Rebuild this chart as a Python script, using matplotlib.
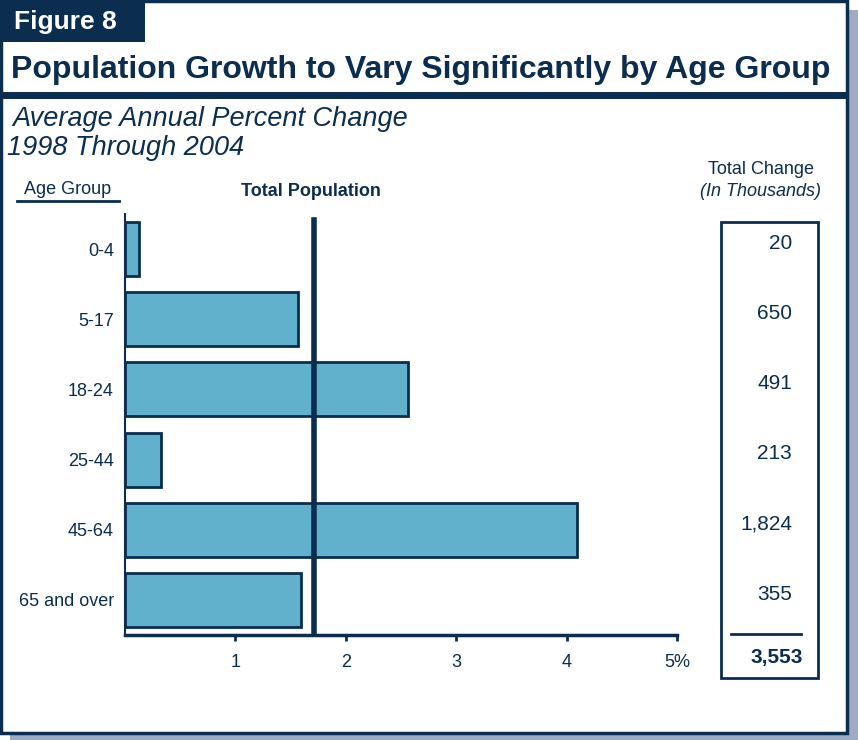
import matplotlib
matplotlib.use("Agg")
import matplotlib.pyplot as plt
import matplotlib.transforms as mtransforms
from matplotlib.patches import Rectangle

# data
groups = ["0-4", "5-17", "18-24", "25-44", "45-64", "65 and over"]
pct_change = [0.13, 1.57, 2.56, 0.33, 4.09, 1.59]
total_change = ["20", "650", "491", "213", "1,824", "355"]
total_sum = "3,553"
total_pop_rate = 1.71
xticks = [1, 2, 3, 4, 5]
xticklabels = ["1", "2", "3", "4", "5%"]

navy = "#0B2D4F"
bar_fill = "#62B1CC"
shadow = "#9DABC3"

plt.rcParams["font.family"] = ["Liberation Sans", "DejaVu Sans"]

W, H = 858, 740
fig = plt.figure(figsize=(W / 100, H / 100), dpi=100)

# background / frame layer in pixel coords
bg = fig.add_axes([0, 0, 1, 1])
bg.set_xlim(0, W)
bg.set_ylim(H, 0)
bg.axis("off")
bg.add_patch(Rectangle((10, 10), W - 10, H - 10, color=shadow, lw=0))
bg.add_patch(Rectangle((1, 1), 846, 732, facecolor="white", edgecolor=navy, lw=2.5))
bg.add_patch(Rectangle((0, 0), 145, 42, color=navy, lw=0))
bg.add_patch(Rectangle((0, 92), 848, 7, color=navy, lw=0))
bg.text(14, 22, "Figure 8", color="white", fontsize=19, fontweight="bold", va="center")
bg.text(11, 70, "Population Growth to Vary Significantly by Age Group", color=navy,
        fontsize=23, fontweight="bold", va="center")
bg.text(12, 119, "Average Annual Percent Change", color=navy, fontsize=19.5,
        style="italic", va="center")
bg.text(7, 148, "1998 Through 2004", color=navy, fontsize=19.5, style="italic", va="center")
bg.text(68, 190, "Age Group", color=navy, fontsize=13, ha="center", va="center")
bg.plot([17, 119], [201, 201], color=navy, lw=2)
bg.text(311, 192, "Total Population", color=navy, fontsize=13, fontweight="bold",
        ha="center", va="center")
bg.text(761, 170, "Total Change", color=navy, fontsize=13, ha="center", va="center")
bg.text(761, 192, "(In Thousands)", color=navy, fontsize=13, style="italic",
        ha="center", va="center")
bg.add_patch(Rectangle((721, 222), 97, 456, fill=False, edgecolor=navy, lw=2))
bg.plot([731, 801], [634, 634], color=navy, lw=2)
bg.text(803, 658, total_sum, color=navy, fontsize=15, fontweight="bold",
        ha="right", va="center")

# bar chart
ax = fig.add_axes([125 / W, 1 - 635 / H, (677 - 125) / W, (635 - 214) / H])
ax.set_facecolor("none")
ypos = list(range(len(groups)))
ax.barh(ypos, pct_change, height=0.77, color=bar_fill, edgecolor=navy, linewidth=2, zorder=2)
ax.axvline(total_pop_rate, ymin=0, ymax=0.985, color=navy, lw=4, zorder=3)
ax.set_xlim(0, 5)
ax.set_ylim(5.5, -0.5)
ax.set_yticks(ypos)
ax.set_yticklabels(groups, fontsize=13, color=navy)
ax.set_xticks(xticks)
ax.set_xticklabels(xticklabels, fontsize=13, color=navy)
ax.tick_params(axis="y", length=0, pad=8)
ax.tick_params(axis="x", length=4, width=2, color=navy, direction="out", pad=10)
for s in ["top", "right"]:
    ax.spines[s].set_visible(False)
ax.spines["left"].set_color(navy)
ax.spines["left"].set_linewidth(1.5)
ax.spines["bottom"].set_color(navy)
ax.spines["bottom"].set_linewidth(2.5)

# total change column
trans = mtransforms.blended_transform_factory(fig.transFigure, ax.transData)
for y, v in zip(ypos, total_change):
    ax.text(792 / W, y - 0.08, v, transform=trans, fontsize=15, color=navy,
            ha="right", va="center", clip_on=False)

fig.savefig("out.png", dpi=100)
